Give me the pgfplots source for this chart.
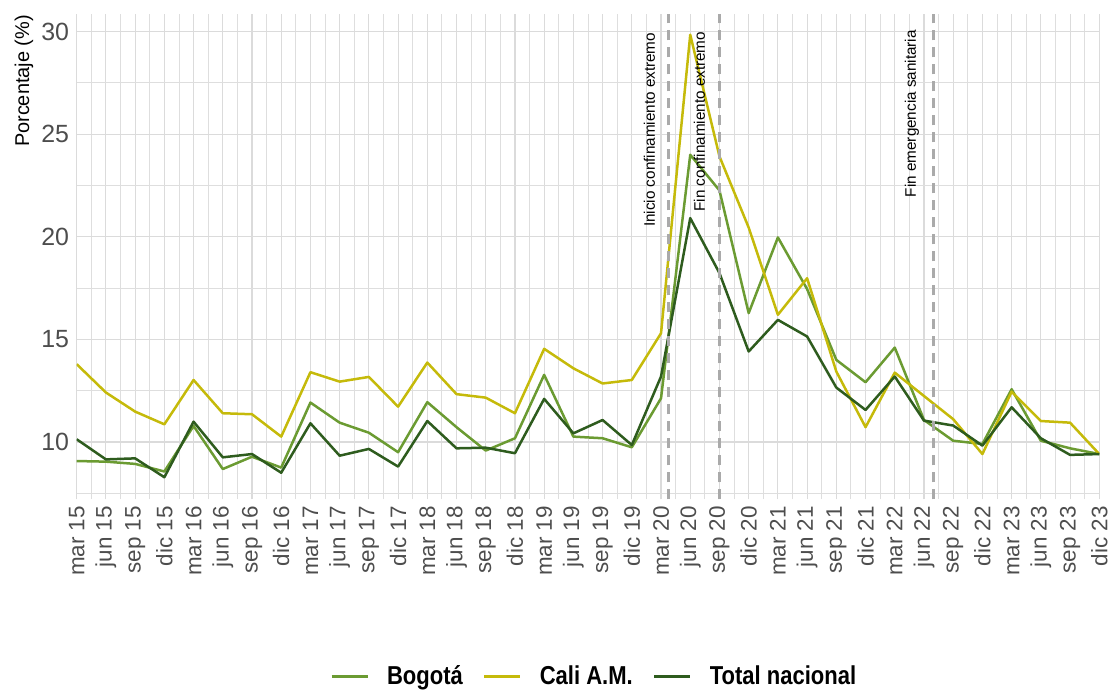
\documentclass[border=0pt]{standalone}
\usepackage{fontspec}
\setmainfont{Liberation Sans}
\newfontfamily\legendfont{Liberation Sans}[FakeStretch=0.85]
\usepackage{pgfplots}
\pgfplotsset{compat=1.18}

\definecolor{cBog}{RGB}{107,155,50}
\definecolor{cCali}{RGB}{197,186,10}
\definecolor{cTot}{RGB}{46,92,30}
\definecolor{tickgray}{RGB}{77,77,77}
\definecolor{vgray}{RGB}{170,170,170}

% trimestre  bogota  cali  total
\pgfplotstableread{
x  bog    cali   tot
0  9.07   13.79  10.13
1  9.04   12.41  9.15
2  8.93   11.48  9.20
3  8.56   10.86  8.28
4  10.78  13.02  10.99
5  8.68   11.40  9.25
6  9.28   11.35  9.41
7  8.75   10.26  8.50
8  11.92  13.40  10.91
9  10.94  12.94  9.33
10 10.45  13.17  9.66
11 9.50   11.72  8.80
12 11.94  13.87  11.02
13 10.72  12.33  9.69
14 9.58   12.16  9.72
15 10.18  11.40  9.45
16 13.27  14.54  12.10
17 10.26  13.59  10.42
18 10.18  12.85  11.07
19 9.74   13.02  9.85
20 12.13  15.30  13.19
21 24.00  29.85  20.91
22 22.26  23.92  18.23
23 16.28  20.45  14.41
24 19.97  16.20  15.95
25 17.45  17.98  15.14
26 14.00  13.43  12.65
27 12.91  10.72  11.56
28 14.60  13.38  13.19
29 11.07  12.24  11.04
30 10.06  11.11  10.80
31 9.90   9.41   9.82
32 12.57  12.45  11.69
33 10.06  11.02  10.18
34 9.69   10.94  9.37
35 9.41   9.41   9.41
}\datos

\begin{document}
\begin{tikzpicture}
\useasboundingbox (0,0) rectangle (1112bp,691bp);
\begin{axis}[
    at={(76.7bp,191.5bp)}, anchor=south west,
    scale only axis,
    width=1022.6bp, height=485.5bp,
    xmin=0, xmax=35, ymin=7.195, ymax=30.86,
    xtick={0,...,35},
    xticklabels={mar 15,jun 15,sep 15,dic 15,mar 16,jun 16,sep 16,dic 16,
                 mar 17,jun 17,sep 17,dic 17,mar 18,jun 18,sep 18,dic 18,
                 mar 19,jun 19,sep 19,dic 19,mar 20,jun 20,sep 20,dic 20,
                 mar 21,jun 21,sep 21,dic 21,mar 22,jun 22,sep 22,dic 22,
                 mar 23,jun 23,sep 23,dic 23},
    minor xtick={0.5,1.5,...,34.5},
    ytick={10,15,20,25,30},
    minor ytick={7.5,12.5,17.5,22.5,27.5},
    grid=both,
    major grid style={draw=black!14, line width=1.1bp},
    minor grid style={draw=black!13, line width=0.9bp},
    axis line style={draw=none},
    major tick length=0pt, minor tick length=0pt,
    /pgf/number format/assume math mode=true,
    yticklabel style={font=\fontsize{25}{25}\selectfont, text=tickgray, inner sep=0pt, anchor=east},
    yticklabel shift=7.5bp,
    xticklabel style={font=\fontsize{22.5}{22.5}\selectfont, text=tickgray, rotate=90, anchor=east, inner sep=0pt},
    xticklabel shift=6.5bp,
    legend style={at={(axis description cs:0.505,-0.364)}, anchor=center,
        draw=none, fill=none, inner sep=0pt,
        font=\legendfont\bfseries\fontsize{26}{26}\selectfont,
        nodes={inner sep=0pt},
        /tikz/every odd column/.append style={column sep=18bp},
        /tikz/every even column/.append style={column sep=20bp}},
    legend columns=3,
    legend image code/.code={\draw[#1, line width=3bp] (0bp,0bp) -- (36bp,0bp);},
    every axis plot/.append style={line width=2.5bp, mark=none, line join=round},
]
\addplot[cBog]  table[x=x, y=bog]  {\datos};
\addlegendentry{Bogotá}
\addplot[cCali] table[x=x, y=cali] {\datos};
\addlegendentry{Cali A.M.}
\addplot[cTot]  table[x=x, y=tot]  {\datos};
\addlegendentry{Total nacional}

\addplot[vgray, line width=2.8bp, dash pattern=on 10bp off 7bp, forget plot]
    coordinates {(20.25,7.195) (20.25,30.86)};
\addplot[vgray, line width=2.8bp, dash pattern=on 10bp off 7bp, forget plot]
    coordinates {(22.0,7.195) (22.0,30.86)};
\addplot[vgray, line width=2.8bp, dash pattern=on 10bp off 7bp, forget plot]
    coordinates {(29.33,7.195) (29.33,30.86)};

\node[rotate=90, anchor=base east, inner sep=0pt, font=\fontsize{15.3}{15.3}\selectfont]
    at (axis cs:19.79,29.95) {Inicio confinamiento extremo};
\node[rotate=90, anchor=base east, inner sep=0pt, font=\fontsize{15.3}{15.3}\selectfont]
    at (axis cs:21.50,30.0) {Fin confinamiento extremo};
\node[rotate=90, anchor=base east, inner sep=0pt, font=\fontsize{15.3}{15.3}\selectfont]
    at (axis cs:28.72,30.08) {Fin emergencia sanitaria};
\end{axis}
\node[rotate=90, anchor=base east, inner sep=0pt, font=\fontsize{20}{20}\selectfont]
    at (29bp,676bp) {Porcentaje (\%)};
\end{tikzpicture}
\end{document}
